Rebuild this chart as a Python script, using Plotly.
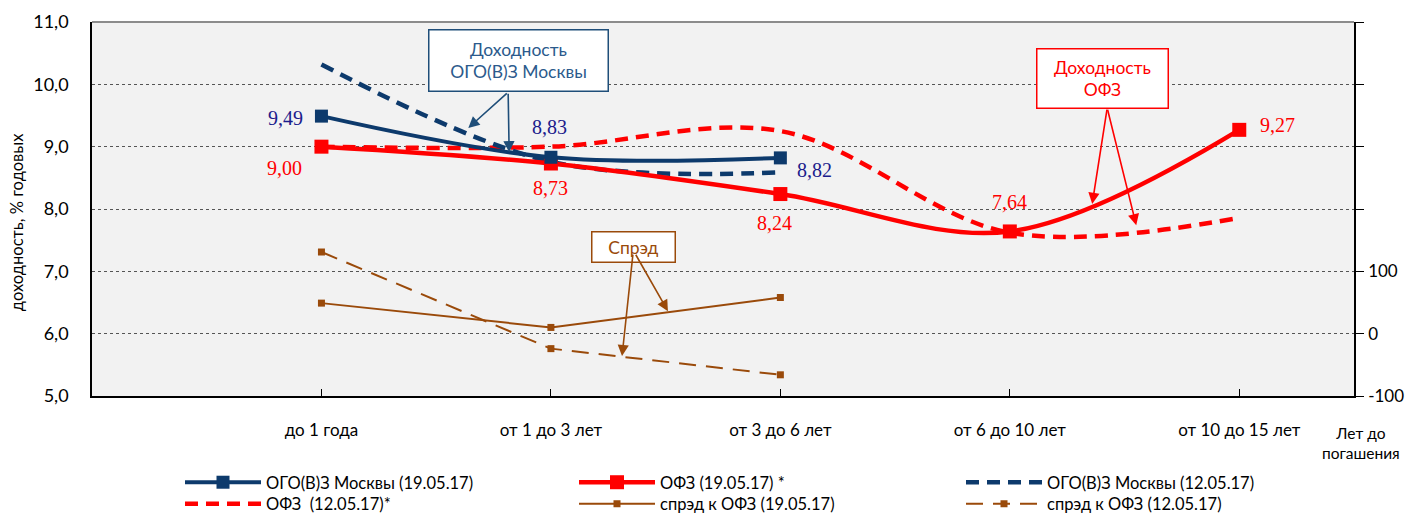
import plotly.graph_objects as go

# ---------------- data ----------------
categories = ["до 1 года", "от 1 до 3 лет", "от 3 до 6 лет", "от 6 до 10 лет", "от 10 до 15 лет"]
cat_idx = [0, 1, 2, 3, 4]

ogo_1905 = [9.49, 8.83, 8.82]
ofz_1905 = [9.00, 8.73, 8.24, 7.64, 9.27]
ogo_1205 = [10.32, 8.76, 8.59]
ofz_1205 = [9.00, 9.00, 9.25, 7.62, 7.86]
spread_1905 = [49, 10, 58]
spread_1205 = [131, -24, -66]

ogo_labels = ["9,49", "8,83", "8,82"]
ofz_labels = ["9,00", "8,73", "8,24", "7,64", "9,27"]

left_ticks = [5, 6, 7, 8, 9, 10, 11]
right_ticks = [-100, 0, 100, 200, 300, 400, 500]
right_ticktext = ["-100", "0", "100", "", "", "", ""]

# ---------------- style ----------------
NAVY = "#0d3a6c"
RED = "#ff0000"
BROWN = "#9a4a0a"
LBL_NAVY = "#1c1c8c"
SANS = "Lato"
SERIF = "Liberation Serif"

# page has an 8px body margin -> figure is 8px smaller
W, H = 1406, 507

fig = go.Figure()

# spreads (right axis)
fig.add_trace(go.Scatter(
    x=cat_idx[:3], y=spread_1905, yaxis="y2", mode="lines+markers",
    name="спрэд к ОФЗ (19.05.17)", legend="legend5",
    line=dict(color=BROWN, width=2), marker=dict(symbol="square", size=7, color=BROWN)))
fig.add_trace(go.Scatter(
    x=cat_idx[:3], y=spread_1205, yaxis="y2", mode="lines+markers",
    name="спрэд к ОФЗ (12.05.17)", legend="legend6",
    line=dict(color=BROWN, width=2, dash="17px,10px"), marker=dict(symbol="square", size=7, color=BROWN)))

# dashed (12.05)
fig.add_trace(go.Scatter(
    x=cat_idx, y=ofz_1205, mode="lines", name="ОФЗ  (12.05.17)*", legend="legend4",
    line=dict(color=RED, width=4.5, dash="13px,8px", shape="spline")))
fig.add_trace(go.Scatter(
    x=cat_idx[:3], y=ogo_1205, mode="lines", name="ОГО(В)З Москвы (12.05.17)", legend="legend3",
    line=dict(color=NAVY, width=4.5, dash="13px,8px", shape="spline")))

# solid (19.05)
fig.add_trace(go.Scatter(
    x=cat_idx, y=ofz_1905, mode="lines+markers", name="ОФЗ (19.05.17) *", legend="legend2",
    line=dict(color=RED, width=4.5, shape="spline"), marker=dict(symbol="square", size=14, color=RED)))
fig.add_trace(go.Scatter(
    x=cat_idx[:3], y=ogo_1905, mode="lines+markers", name="ОГО(В)З Москвы (19.05.17)", legend="legend",
    line=dict(color=NAVY, width=4, shape="spline"), marker=dict(symbol="square", size=13, color=NAVY)))

annotations = []
# data labels
ogo_off = [(-36, -2), (-1, 30), (34, -12)]
ofz_off = [(-37, -21), (0, -24), (-6, -29), (0, 29), (38, 5)]
for i, (t, v) in enumerate(zip(ogo_labels, ogo_1905)):
    annotations.append(dict(x=cat_idx[i], y=v, text=t, showarrow=False,
                            xshift=ogo_off[i][0], yshift=ogo_off[i][1],
                            font=dict(family=SERIF, size=20, color=LBL_NAVY)))
for i, (t, v) in enumerate(zip(ofz_labels, ofz_1905)):
    annotations.append(dict(x=cat_idx[i], y=v, text=t, showarrow=False,
                            xshift=ofz_off[i][0], yshift=ofz_off[i][1],
                            font=dict(family=SERIF, size=20, color=RED)))

# callout boxes
annotations.append(dict(x=0.857, y=10.38, text="Доходность<br>ОГО(В)З Москвы", showarrow=False,
                        font=dict(family=SANS, size=17.5, color="#2b5a8c"), bgcolor="white",
                        bordercolor="#1f4e79", borderwidth=1.5, borderpad=4, width=170, height=52))
annotations.append(dict(x=3.405, y=10.09, text="Доходность<br>ОФЗ", showarrow=False,
                        font=dict(family=SANS, size=17.5, color=RED), bgcolor="white",
                        bordercolor=RED, borderwidth=1.5, borderpad=4, width=122, height=50))
annotations.append(dict(x=1.36, y=7.39, text="Спрэд", showarrow=False,
                        font=dict(family=SANS, size=17.5, color=BROWN), bgcolor="white",
                        bordercolor=BROWN, borderwidth=1.5, borderpad=3, width=76, height=23))

def arrow(xh, yh, ax, ay, color):
    return dict(x=xh, y=yh, ax=ax, ay=ay, text="", showarrow=True, arrowhead=2,
                arrowsize=1.4, arrowwidth=1.6, arrowcolor=color, standoff=0, startstandoff=0)

# arrow heads in data coords, tails as pixel offsets
annotations.append(arrow(0.640, 9.30, 40, -36, "#1f4e79"))
annotations.append(arrow(0.818, 8.91, -1, -60, "#1f4e79"))
annotations.append(arrow(3.359, 8.08, 15, -96, RED))
annotations.append(arrow(3.551, 7.74, -29, -117, RED))
annotations.append(arrow(1.310, 5.64, 11, -103, BROWN))
annotations.append(arrow(1.510, 6.36, -33, -58, BROWN))

# axis caption and y title
annotations.append(dict(xref="paper", yref="paper", x=1.0055, y=-0.125, xanchor="center", yanchor="middle",
                        text="Лет до<br>погашения", showarrow=False, align="center",
                        font=dict(family=SANS, size=15.5, color="black")))
annotations.append(dict(xref="paper", yref="paper", x=-0.0594, y=0.465, xanchor="center", yanchor="middle",
                        text="доходность, % годовых", showarrow=False, textangle=-90,
                        font=dict(family=SANS, size=16.5, color="black")))

shapes = [dict(type="line", xref="paper", yref="paper", x0=0, x1=1, y0=1, y1=1,
               line=dict(color="#8c8c8c", width=2))]

legend_common = dict(xref="container", yref="container", xanchor="left", yanchor="top",
                     orientation="v", itemwidth=76, bgcolor="rgba(0,0,0,0)",
                     font=dict(family=SANS, size=16.5, color="black"), tracegroupgap=0)
ROW1_Y = 1 - 457 / H
ROW2_Y = 1 - 478.5 / H
COL_X = [172 / W, 566 / W, 953 / W]

fig.update_layout(
    width=W, height=H,
    showlegend=True,
    margin=dict(l=84, r=60, t=14, b=119, autoexpand=False),
    paper_bgcolor="white", plot_bgcolor="#f2f2f2",
    separators=", ",
    font=dict(family=SANS, color="black"),
    xaxis=dict(range=[-1, 4.5], tickvals=cat_idx, ticktext=categories, automargin=False,
               ticks="inside", ticklen=7, tickcolor="black", showline=True, linecolor="black",
               linewidth=1.5, showgrid=False, zeroline=False, ticklabelstandoff=18,
               tickfont=dict(family=SANS, size=17, color="black")),
    yaxis=dict(range=[5, 11], tickvals=left_ticks, tickformat=".1f", showline=True, automargin=False,
               linecolor="black", linewidth=1.5, showgrid=True, gridcolor="#555555",
               griddash="dot", gridwidth=1, zeroline=False, ticks="", ticklabelstandoff=18,
               tickfont=dict(family=SANS, size=18, color="black")),
    yaxis2=dict(range=[-100, 500], overlaying="y", side="right", tickvals=right_ticks, automargin=False,
                ticktext=right_ticktext, ticks="outside", ticklen=8, tickcolor="black",
                showline=True, linecolor="black", linewidth=1.5, showgrid=False, zeroline=False,
                ticklabelstandoff=1, tickfont=dict(family=SANS, size=17, color="black")),
    legend=dict(x=COL_X[0], y=ROW1_Y, **legend_common),
    legend2=dict(x=COL_X[1], y=ROW1_Y, **legend_common),
    legend3=dict(x=COL_X[2], y=ROW1_Y, **legend_common),
    legend4=dict(x=COL_X[0], y=ROW2_Y, **legend_common),
    legend5=dict(x=COL_X[1], y=ROW2_Y, **legend_common),
    legend6=dict(x=COL_X[2], y=ROW2_Y, **legend_common),
    annotations=annotations,
    shapes=shapes,
)

fig.write_html("out.html")
